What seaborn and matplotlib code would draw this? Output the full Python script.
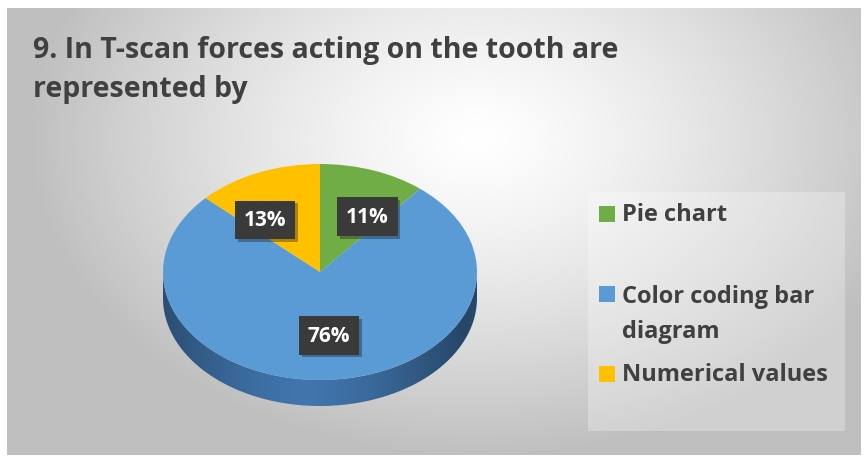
import numpy as np
import matplotlib
matplotlib.use("Agg")
import matplotlib.pyplot as plt
import matplotlib.patheffects as pe
from matplotlib.patches import Polygon, Rectangle
import seaborn as sns

# ---- data ----
title = "9. In T-scan forces acting on the tooth are\nrepresented by"
categories = ["Pie chart", "Color coding bar\ndiagram", "Numerical values"]
values = [11, 76, 13]
colors = ["#70ad47", "#5b9bd5", "#ffc000"]

sns.set_theme(style="white")
plt.rcParams["font.family"] = ["Open Sans", "DejaVu Sans"]

W, H = 866, 460
fig = plt.figure(figsize=(W / 100, H / 100), dpi=100)
fig.patch.set_facecolor("white")

def fx(px):
    return px / W

def fy(py):
    return 1 - py / H

# ---- background panel with radial gradient ----
x0, y0, x1, y1 = 7, 9, 861, 456
bg = fig.add_axes([fx(x0), fy(y1), fx(x1 - x0), (y1 - y0) / H])
gx, gy = np.meshgrid(np.linspace(0, x1 - x0, 400), np.linspace(0, y1 - y0, 220))
r = np.sqrt(((gx - 470) / 450) ** 2 + ((gy - 130) / 320) ** 2)
g = np.clip(1.0 - 0.25 * r ** 1.3, 0.75, 1.0)
bg.imshow(np.dstack([g, g, g]), aspect="auto", extent=[0, 1, 0, 1], origin="upper")
bg.set_axis_off()
# legend background area
bg.add_patch(Rectangle(((588 - x0) / (x1 - x0), 1 - (432 - y0) / (y1 - y0)),
                       (845 - 588) / (x1 - x0), (432 - 193) / (y1 - y0),
                       transform=bg.transAxes, facecolor="white", alpha=0.28,
                       edgecolor="none"))

# ---- title ----
fig.text(fx(33), fy(36), title, ha="left", va="top", fontsize=20.5,
         fontweight="bold", color="#404040", linespacing=1.45)

# ---- 3D-ish pie ----
cx, cy, rx, ry = 320, 273, 157, 108
ax_l, ax_r, ax_t, ax_b = 140, 500, 150, 425
ax = fig.add_axes([fx(ax_l), fy(ax_b), fx(ax_r - ax_l), (ax_b - ax_t) / H])
ax.patch.set_alpha(0)
depth = 26 / ry

# side wall (front half of ellipse, all blue)
t = np.linspace(np.pi, 2 * np.pi, 200)
top = np.column_stack([np.cos(t), np.sin(t)])
bot = np.column_stack([np.cos(t[::-1]), np.sin(t[::-1]) - depth])
side = Polygon(np.vstack([top, bot]), closed=True, facecolor="none", edgecolor="none")
ax.add_patch(side)
sx = np.linspace(-1, 1, 300)
shade = 0.5 + 0.32 * np.clip(1 - np.abs(sx + 0.1) ** 1.5, 0, 1)
base = np.array([0x3f, 0x72, 0xa8]) / 255.0
grad = np.clip(base[None, :] * shade[:, None] / 0.8, 0, 1)[None, :, :]
im = ax.imshow(grad, extent=[-1, 1, -1 - depth, 0], aspect="auto", zorder=1)
im.set_clip_path(side)

wedges, texts, autotexts = ax.pie(
    values, colors=colors, startangle=90, counterclock=False, radius=1,
    autopct=lambda p: f"{p:.0f}%", pctdistance=0.6,
    wedgeprops=dict(linewidth=0), textprops=dict(color="white", fontsize=15,
                                                fontweight="bold"))
# place labels in the tilted-pie perspective: spread away from the vertical axis
for w, at in zip(wedges, autotexts):
    w.set_zorder(2)
    mid = np.deg2rad((w.theta1 + w.theta2) / 2)
    vert = np.pi / 2 if np.sin(mid) >= 0 else -np.pi / 2
    ang = vert + 1.5 * np.arctan2(np.sin(mid - vert), np.cos(mid - vert))
    at.set_position((0.61 * np.cos(ang), 0.59 * np.sin(ang)))
    at.set_zorder(5)
    at.set_bbox(dict(boxstyle="square,pad=0.42", facecolor="#3a3a3a", edgecolor="none"))
    at.get_bbox_patch().set_path_effects(
        [pe.SimplePatchShadow(offset=(2, -2), alpha=0.35), pe.Normal()])

ax.set_aspect("auto")
ax.set_xlim(-(cx - ax_l) / rx, (ax_r - cx) / rx)
ax.set_ylim(-(ax_b - cy) / ry, (cy - ax_t) / ry)
ax.set_axis_off()

# ---- legend ----
leg_y = [215, 295, 375]
for cat, col, ly in zip(categories, colors, leg_y):
    fig.patches.append(Rectangle((fx(599), fy(ly + 8)), fx(16), 16 / H,
                                 transform=fig.transFigure, facecolor=col,
                                 edgecolor="none"))
    multi = "\n" in cat
    fig.text(fx(622), fy(ly - 10) if multi else fy(ly), cat, ha="left",
             va="top" if multi else "center", fontsize=17, fontweight="bold",
             color="#404040", linespacing=1.62)

fig.savefig("out.png", dpi=100)
